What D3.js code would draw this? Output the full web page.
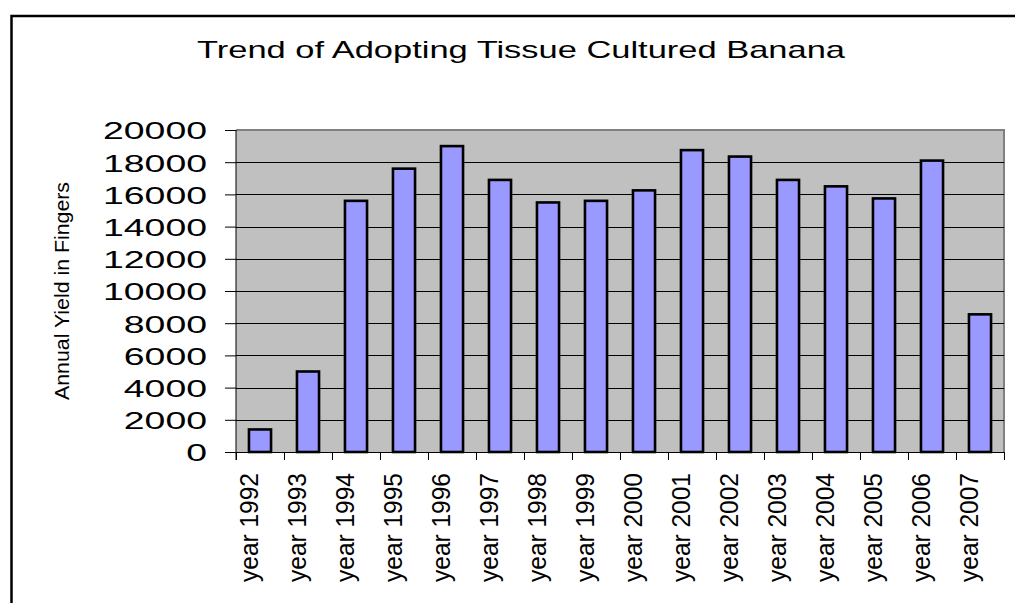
<!DOCTYPE html>
<html>
<head>
<meta charset="utf-8">
<script src="https://cdn.jsdelivr.net/npm/d3@7"></script>
<style>
  html, body { margin: 0; padding: 0; background: #fff; }
  svg { display: block; }
  text { font-family: "Liberation Sans", Arial, sans-serif; fill: #000; }
</style>
</head>
<body>
<svg id="chart" width="1015" height="603"></svg>
<script>
const title = "Trend of Adopting Tissue Cultured Banana";
const yAxisTitle = "Annual Yield in Fingers";
const categories = ["year 1992","year 1993","year 1994","year 1995","year 1996","year 1997","year 1998","year 1999","year 2000","year 2001","year 2002","year 2003","year 2004","year 2005","year 2006","year 2007"];
const yields = [1400, 5000, 15600, 17600, 19000, 16900, 15500, 15600, 16250, 18750, 18350, 16900, 16500, 15750, 18100, 8550];
const yTicks = [0, 2000, 4000, 6000, 8000, 10000, 12000, 14000, 16000, 18000, 20000];

const svg = d3.select("#chart");
const plot = { left: 236, right: 1004, top: 130, bottom: 452 };

// outer frame
svg.append("rect")
  .attr("x", 11.5).attr("y", 16).attr("width", 1100).attr("height", 700)
  .attr("fill", "#fff").attr("stroke", "#000").attr("stroke-width", 2.5);

const x = d3.scaleBand().domain(categories).range([plot.left, plot.right]).padding(0);
const y = d3.scaleLinear().domain([0, 20000]).range([plot.bottom, plot.top]);

// plot background
svg.append("rect")
  .attr("x", plot.left).attr("y", plot.top)
  .attr("width", plot.right - plot.left).attr("height", plot.bottom - plot.top)
  .attr("fill", "#C0C0C0");

// top/right gray border
svg.append("path")
  .attr("d", `M${plot.left},${plot.top}H${plot.right}V${plot.bottom}`)
  .attr("fill", "none").attr("stroke", "#808080").attr("stroke-width", 2);

// gridlines
svg.append("g").selectAll("line").data(yTicks.filter(d => d > 0 && d < 20000)).join("line")
  .attr("x1", plot.left).attr("x2", plot.right)
  .attr("y1", d => Math.round(y(d)) + 0.5).attr("y2", d => Math.round(y(d)) + 0.5)
  .attr("stroke", "#000").attr("stroke-width", 1);

// bars
const barFrac = 0.46;
svg.append("g").selectAll("rect").data(categories).join("rect")
  .attr("x", d => x(d) + x.bandwidth() * (1 - barFrac) / 2)
  .attr("width", x.bandwidth() * barFrac)
  .attr("y", (d, i) => y(yields[i]))
  .attr("height", (d, i) => plot.bottom - y(yields[i]))
  .attr("fill", "#9999FF").attr("stroke", "#000").attr("stroke-width", 2.6);

// y axis
const yAxis = d3.axisLeft(y).tickValues(yTicks).tickSize(11).tickPadding(18).tickFormat(d3.format("d"));
const gy = svg.append("g").attr("transform", `translate(${plot.left},0)`).call(yAxis);
gy.select(".domain").remove();
gy.selectAll(".tick line").attr("stroke", "#000");
gy.append("line").attr("x1", 0).attr("x2", 0).attr("y1", plot.top).attr("y2", plot.bottom + 8).attr("stroke", "#000");
gy.selectAll(".tick text")
  .attr("font-size", 24.5).attr("font-family", "Liberation Sans, Arial, sans-serif")
  .attr("fill", "#000").attr("dy", "0.36em")
  .attr("textLength", d => String(d).length * 20.8).attr("lengthAdjust", "spacingAndGlyphs");

// x axis: ticks at category boundaries
const gx = svg.append("g");
gx.append("line").attr("x1", plot.left - 11).attr("x2", plot.right)
  .attr("y1", plot.bottom + 0.5).attr("y2", plot.bottom + 0.5).attr("stroke", "#000");
const bounds = categories.map(c => x(c)).concat([x(categories[categories.length - 1]) + x.bandwidth()]);
gx.selectAll("line.xt").data(bounds).join("line").attr("class", "xt")
  .attr("x1", d => Math.round(d) + 0.5).attr("x2", d => Math.round(d) + 0.5)
  .attr("y1", plot.bottom).attr("y2", plot.bottom + 8).attr("stroke", "#000");
gx.selectAll("text").data(categories).join("text")
  .attr("transform", d => `translate(${x(d) + x.bandwidth() / 2 - 2.5},473) rotate(-90)`)
  .attr("text-anchor", "end")
  .attr("font-size", 26.5)
  .attr("textLength", 109).attr("lengthAdjust", "spacingAndGlyphs")
  .text(d => d);

// y axis title
svg.append("text")
  .attr("transform", "translate(69,291) rotate(-90)")
  .attr("text-anchor", "middle")
  .attr("font-size", 20)
  .attr("textLength", 218).attr("lengthAdjust", "spacingAndGlyphs")
  .text(yAxisTitle);

// chart title
svg.append("text")
  .attr("x", 521).attr("y", 57.5)
  .attr("text-anchor", "middle")
  .attr("font-size", 24)
  .attr("textLength", 648).attr("lengthAdjust", "spacingAndGlyphs")
  .text(title);
</script>
</body>
</html>
